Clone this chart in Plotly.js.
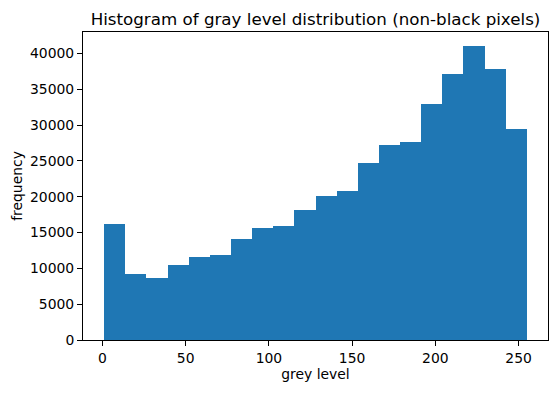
<!DOCTYPE html>
<html>
<head>
<meta charset="utf-8">
<script src="https://cdn.plot.ly/plotly-3.0.1.min.js"></script>
<style>html,body{margin:0;padding:0;background:#fff;}#chart{width:558px;height:393px;}</style>
</head>
<body>
<div id="chart"></div>
<script>
// Histogram of grey levels: 20 equal bins between binStart and binEnd
const binStart = 1;
const binEnd = 255;
const counts = [16200, 9220, 8660, 10480, 11600, 11880, 14110, 15650, 15930, 18160,
                20120, 20820, 24730, 27240, 27660, 32970, 37160, 41080, 37860, 29480];
const xTicks = [0, 50, 100, 150, 200, 250];
const yTicks = [0, 5000, 10000, 15000, 20000, 25000, 30000, 35000, 40000];

const nBins = counts.length;
const binWidth = (binEnd - binStart) / nBins;
const centers = counts.map((_, i) => binStart + binWidth * (i + 0.5));

const font = {family: 'DejaVu Sans, sans-serif', size: 13.9, color: '#000'};

const trace = {
  type: 'bar',
  x: centers,
  y: counts,
  width: binWidth,
  marker: {color: '#1f77b4', line: {width: 0}},
  hoverinfo: 'x+y'
};

const axisCommon = {
  showline: true, linecolor: '#000', linewidth: 1, mirror: true,
  ticks: 'outside', ticklen: 5, tickwidth: 1, tickcolor: '#000',
  showgrid: false, zeroline: false, tickfont: font
};

const layout = {
  width: 558, height: 393,
  margin: {l: 83, r: 10, t: 32, b: 53, pad: 0},
  paper_bgcolor: '#fff', plot_bgcolor: '#fff',
  font: font,
  showlegend: false,
  bargap: 0,
  title: {
    text: 'Histogram of gray level distribution (non-black pixels)',
    font: {family: 'DejaVu Sans, sans-serif', size: 16.7, color: '#000'},
    x: 0.5, xref: 'paper', xanchor: 'center',
    y: 1, yref: 'paper', yanchor: 'bottom', pad: {b: 7}
  },
  xaxis: Object.assign({}, axisCommon, {
    range: [binStart - 0.05 * (binEnd - binStart), binEnd + 0.05 * (binEnd - binStart)],
    tickvals: xTicks, ticktext: xTicks.map(String),
    title: {text: 'grey level', font: font, standoff: 3}
  }),
  yaxis: Object.assign({}, axisCommon, {
    range: [0, 42990],
    tickvals: yTicks, ticktext: yTicks.map(String),
    title: {text: 'frequency', font: font, standoff: 4}
  })
};

Plotly.newPlot('chart', [trace], layout, {displayModeBar: false, staticPlot: true});
</script>
</body>
</html>
